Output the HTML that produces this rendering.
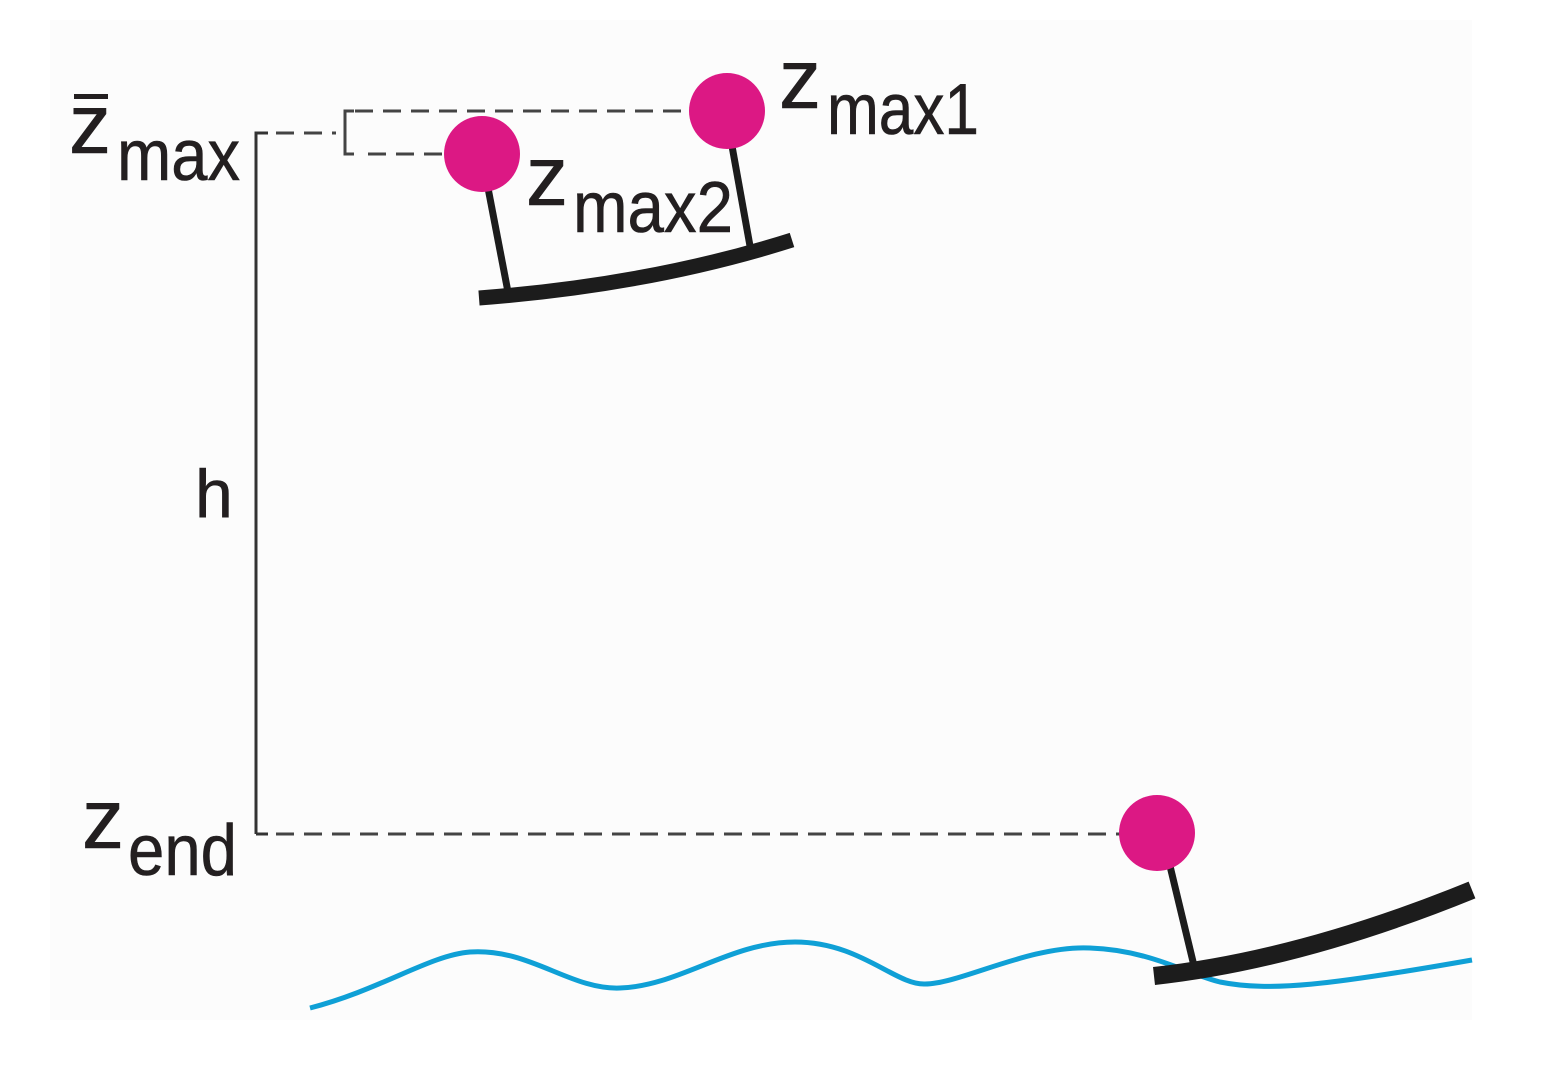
<!DOCTYPE html>
<html><head><meta charset="utf-8"><style>
html,body{margin:0;padding:0;background:#fff;}
svg{display:block;}
text{font-family:"Liberation Sans",sans-serif;fill:#231f20;stroke:#231f20;stroke-width:0.6;}
</style></head><body>
<svg width="1556" height="1076" viewBox="0 0 1556 1076" xmlns="http://www.w3.org/2000/svg">
<rect x="0" y="0" width="1556" height="1076" fill="#ffffff"/>
<rect x="50" y="20" width="1422" height="1000" fill="#fcfcfc"/>
<path d="M256 834 L256 133 L268 133" fill="none" stroke="#333" stroke-width="3"/>
<path d="M256 834 L268 834" fill="none" stroke="#333" stroke-width="3"/>
<g stroke="#444" stroke-width="3" stroke-dasharray="18,10" fill="none">
<line x1="276" y1="133" x2="336" y2="133"/>
<line x1="355" y1="111" x2="690" y2="111"/>
<line x1="368" y1="154" x2="445" y2="154"/>
<line x1="276" y1="834" x2="1120" y2="834"/>
</g>
<path d="M354 111 L345 111 L345 154 L354 154" fill="none" stroke="#444" stroke-width="3"/>
<path d="M310 1008 C380 990 430 955 470 952 C530 948 570 990 620 988 C680 986 730 942 795 942 C860 942 895 985 925 984 C960 984 1030 945 1090 948 C1150 950 1190 975 1220 982 C1270 992 1330 985 1472 960" fill="none" stroke="#0fa0d6" stroke-width="5"/>
<g stroke="#1c1c1c" stroke-width="7" fill="none">
<line x1="488" y1="188" x2="508" y2="292"/>
<line x1="732" y1="146" x2="750" y2="246"/>
<line x1="1170" y1="866" x2="1195" y2="970"/>
</g>
<path d="M479 298 Q650 285 792 240" fill="none" stroke="#1c1c1c" stroke-width="15"/>
<path d="M1154 976 Q1300 960 1472 890" fill="none" stroke="#1c1c1c" stroke-width="18"/>
<g fill="#dc1884">
<circle cx="482" cy="154" r="38"/>
<circle cx="727" cy="111" r="38"/>
<circle cx="1157" cy="833" r="38"/>
</g>
<text x="69" y="153" font-size="84">z</text>
<rect x="74" y="94" width="34" height="5" fill="#231f20"/>
<text x="117" y="180" font-size="72" textLength="123" lengthAdjust="spacingAndGlyphs">max</text>
<text x="779" y="108" font-size="84">z</text>
<text x="827" y="134" font-size="72" textLength="152" lengthAdjust="spacingAndGlyphs">max1</text>
<text x="526" y="205" font-size="84">z</text>
<text x="573" y="232" font-size="72" textLength="160" lengthAdjust="spacingAndGlyphs">max2</text>
<text x="82" y="848" font-size="84">z</text>
<text x="128" y="875" font-size="72" textLength="109" lengthAdjust="spacingAndGlyphs">end</text>
<text x="195" y="517" font-size="68">h</text>
</svg>
</body></html>
